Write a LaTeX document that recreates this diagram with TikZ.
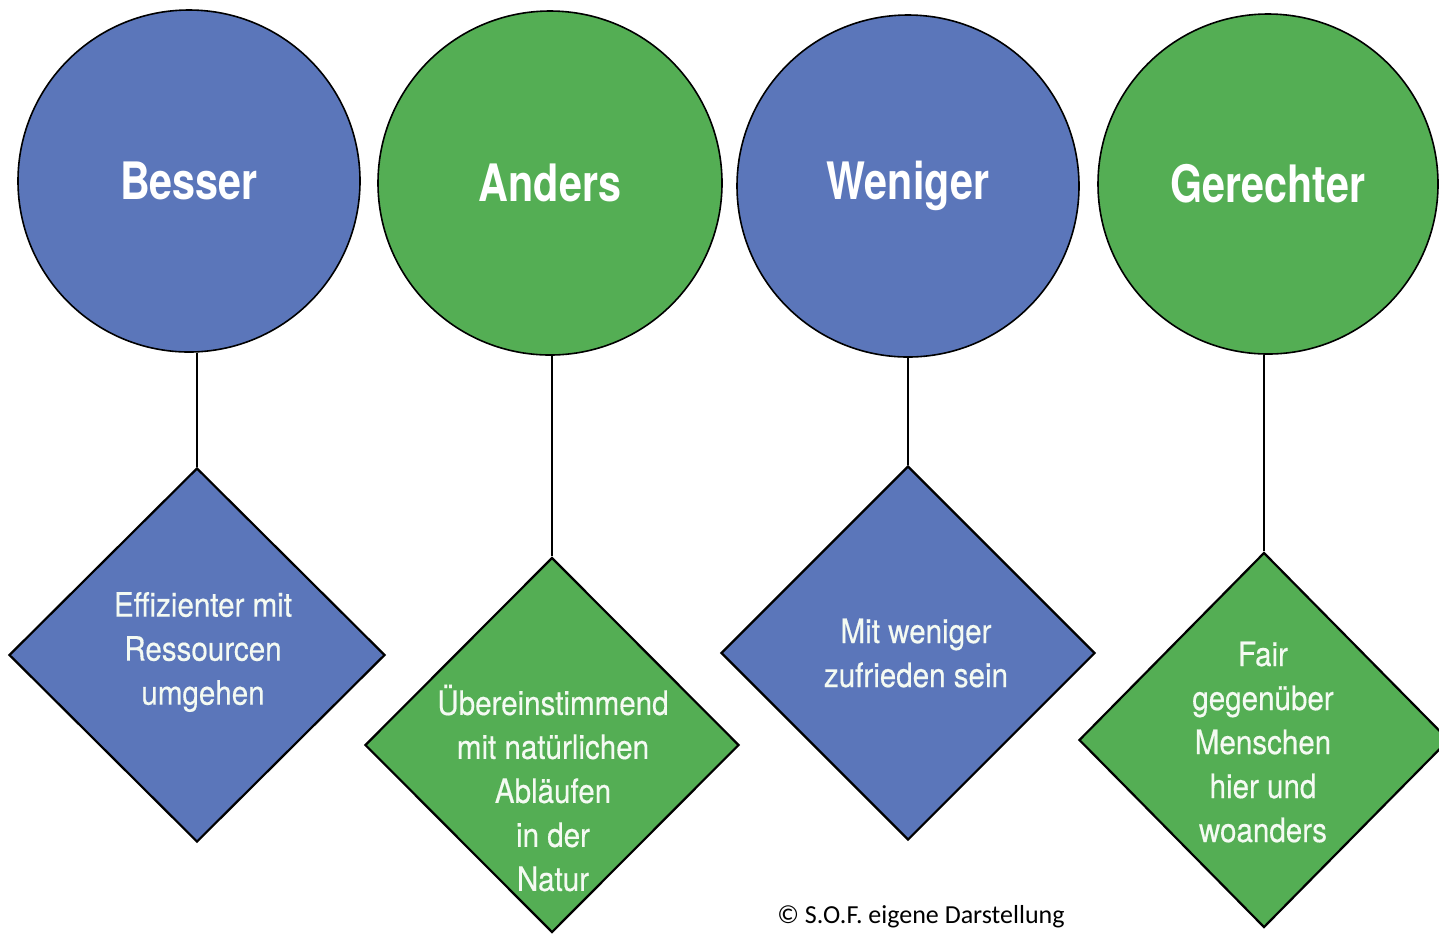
\documentclass[tikz,border=0pt]{standalone}
\usepackage{fontspec}
\usetikzlibrary{shapes.geometric}
\newfontfamily\titlefont[FakeStretch=0.8]{TeX Gyre Heros}
\newfontfamily\bodyfont[FakeStretch=0.88,FakeBold=0.4]{TeX Gyre Heros}
\newfontfamily\notefont{Carlito}
\definecolor{cblue}{HTML}{5B76BA}
\definecolor{cgreen}{HTML}{54AE54}
\definecolor{ctext}{HTML}{F4FAF2}
\begin{document}
\begin{tikzpicture}[x=0.5pt,y=-0.5pt,
  bubble/.style={circle, draw=black, line width=0.8pt, inner sep=0pt, text=white,
    font=\titlefont\bfseries\fontsize{25.8}{30}\selectfont},
  rhomb/.style={diamond, draw=black, line width=1.1pt, inner sep=0pt},
  rtext/.style={align=center, text=ctext, inner sep=0pt,
    font=\bodyfont\fontsize{16.8}{22}\selectfont},
  link/.style={draw=black, line width=1.1pt}]
\fill[white] (0,0) rectangle (1439,934);
\useasboundingbox (0,0) rectangle (1439,934);

% circles
\node[bubble, fill=cblue,  minimum size=171pt] (c1) at (189,181) {Besser};
\node[bubble, fill=cgreen, minimum size=172pt] (c2) at (550,183) {Anders};
\node[bubble, fill=cblue,  minimum size=171pt] (c3) at (908,186) {Weniger};
\node[bubble, fill=cgreen, minimum size=170pt] (c4) at (1268,184) {Gerechter};

% diamonds (shapes)
\node[rhomb, fill=cblue,  minimum width=188pt, minimum height=187pt] (d1) at (197,655) {};
\node[rhomb, fill=cgreen, minimum width=187pt, minimum height=187.5pt] (d2) at (552,745) {};
\node[rhomb, fill=cblue,  minimum width=187pt, minimum height=187pt] (d3) at (908,653) {};
\node[rhomb, fill=cgreen, minimum width=185pt, minimum height=187.5pt] (d4) at (1264,740) {};

% connectors
\draw[link] (d1.north |- c1.south) -- (d1.north);
\draw[link] (d2.north |- c2.south) -- (d2.north);
\draw[link] (d3.north |- c3.south) -- (d3.north);
\draw[link] (d4.north |- c4.south) -- (d4.north);

% diamond texts
\node[rtext] (t1) at (203,652) {Effizienter mit\\Ressourcen\\umgehen};
\node[rtext] (t2) at (553,788) {Übereinstimmend\\mit natürlichen\\Abläufen\\in der\\Natur};
\node[rtext] (t3) at (916,653) {Mit weniger\\zufrieden sein};
\node[rtext] (t4) at (1263,742) {Fair\\gegenüber\\Menschen\\hier und\\woanders};

% note
\node[font=\notefont\fontsize{13}{15}\selectfont, text=black, inner sep=0pt] (n) at (921,917) {© S.O.F. eigene Darstellung};
\end{tikzpicture}
\end{document}
